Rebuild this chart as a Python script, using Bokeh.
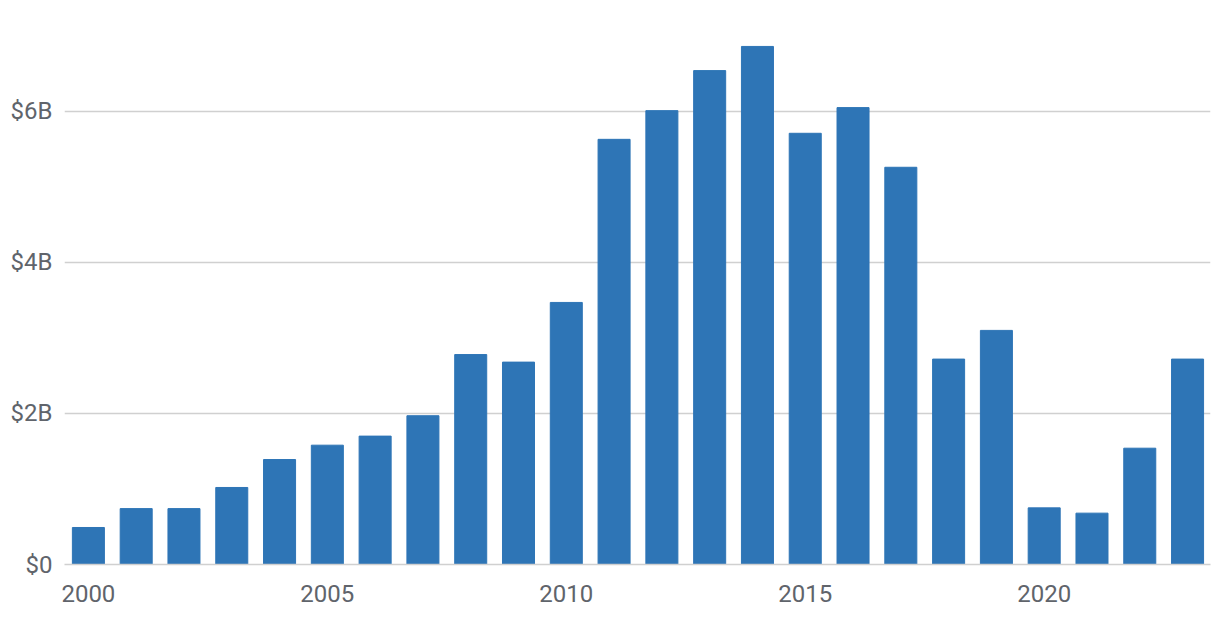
from bokeh.plotting import figure
from bokeh.models import FixedTicker, ColumnDataSource, Range1d
from bokeh.embed import file_html
from bokeh.resources import INLINE

years = list(range(2000, 2024))
values_b = [0.49, 0.74, 0.74, 1.02, 1.39, 1.58, 1.70, 1.97, 2.78, 2.68, 3.47, 5.63,
            6.01, 6.54, 6.86, 5.71, 6.05, 5.26, 2.72, 3.10, 0.75, 0.68, 1.54, 2.72]
y_ticks = [0, 2, 4, 6]
y_tick_labels = ["$0", "$2B", "$4B", "$6B"]
x_ticks = [2000, 2005, 2010, 2015, 2020]

src = ColumnDataSource(dict(year=years, value=values_b))

p = figure(width=1212, height=616, output_backend="svg", toolbar_location=None,
           x_range=Range1d(1999.5, 2023.48), y_range=Range1d(0, 7.23),
           min_border_left=64, min_border_right=2, min_border_top=18, min_border_bottom=52)
p.vbar(x="year", top="value", width=0.67, source=src, color="#2e75b6")

FONT = "Roboto"
TXT = "#60646b"
p.outline_line_color = None
p.xgrid.grid_line_color = None
p.ygrid.grid_line_color = "#d0d0d0"
p.ygrid.grid_line_width = 1.5
p.yaxis.ticker = FixedTicker(ticks=y_ticks)
p.yaxis.major_label_overrides = {t: l for t, l in zip(y_ticks, y_tick_labels)}
p.xaxis.ticker = FixedTicker(ticks=x_ticks)
for ax in (p.xaxis, p.yaxis):
    ax.major_tick_line_color = None
    ax.minor_tick_line_color = None
    ax.major_label_text_font = FONT
    ax.major_label_text_font_size = "24px"
    ax.major_label_text_color = TXT
p.yaxis.axis_line_color = None
p.xaxis.axis_line_color = "#d0d0d0"
p.xaxis.axis_line_width = 1.5
p.yaxis.major_label_standoff = 6
p.xaxis.major_label_standoff = 14

open("out.html", "w").write(file_html(p, INLINE))
